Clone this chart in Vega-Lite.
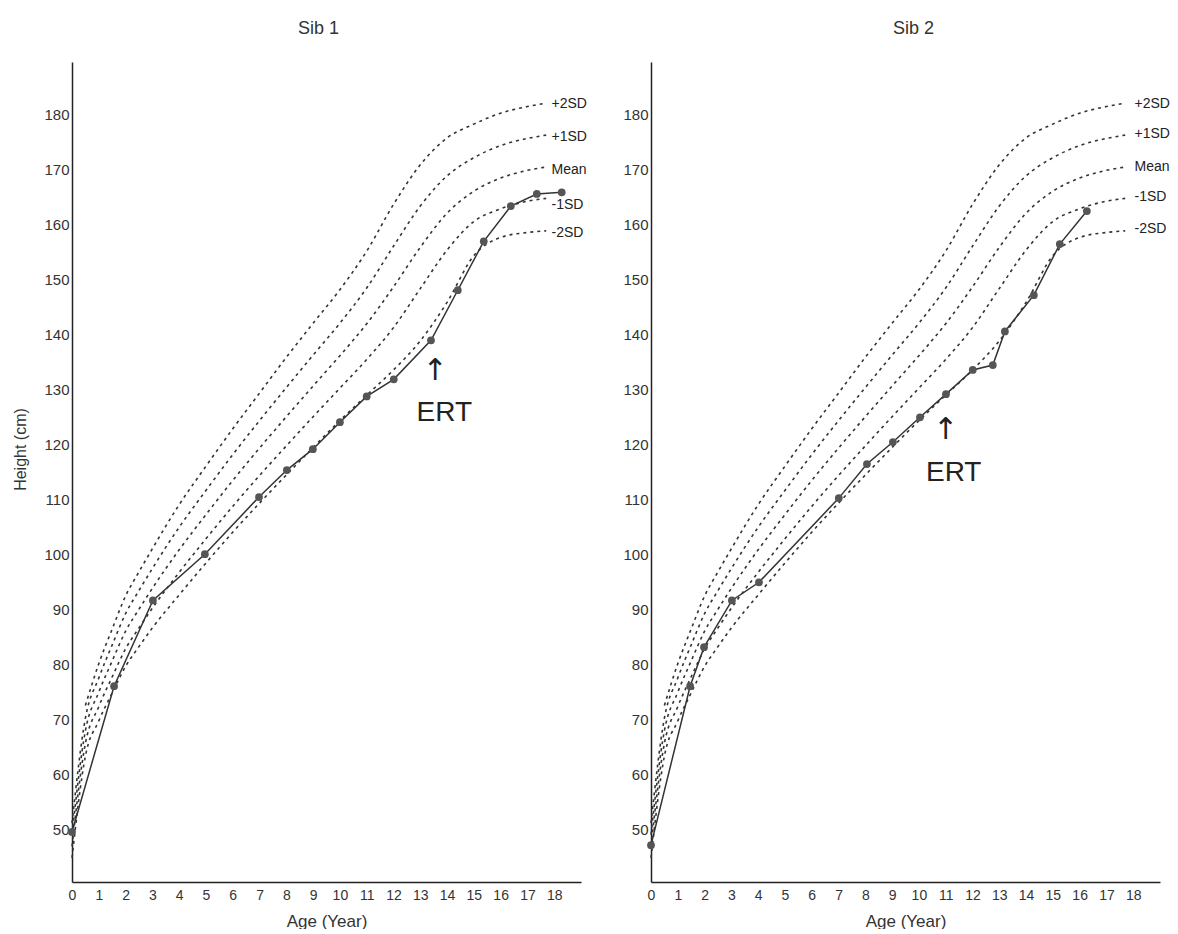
{
  "$schema": "https://vega.github.io/schema/vega-lite/v6.json",
  "padding": {"left": 12, "top": 20, "right": 0, "bottom": 0},
  "spacing": 35,
  "config": {
    "view": {"stroke": null},
    "font": "Liberation Sans",
    "axis": {
      "grid": false,
      "tickSize": 0,
      "domainColor": "#222",
      "domainWidth": 1.5,
      "labelColor": "#333",
      "titleColor": "#333",
      "titleFontWeight": "normal",
      "labelFlush": false
    },
    "title": {"fontSize": 18, "fontWeight": "normal", "color": "#333", "offset": 24, "anchor": "middle"}
  },
  "datasets": {
    "ref": [
      {"age": 0, "m2": 44.8, "m1": 46.9, "mean": 49.0, "p1": 51.1, "p2": null},
      {"age": 0.5, "m2": 63.3, "m1": 65.6, "mean": 67.9, "p1": 70.2, "p2": 72.5},
      {"age": 1, "m2": 69.7, "m1": 72.3, "mean": 74.9, "p1": 77.5, "p2": 80.1},
      {"age": 1.5, "m2": 74.8, "m1": 77.7, "mean": 80.6, "p1": 83.5, "p2": 86.4},
      {"age": 2, "m2": 79.6, "m1": 82.8, "mean": 86.0, "p1": 89.2, "p2": 92.4},
      {"age": 2.5, "m2": 83.2, "m1": 86.6, "mean": 90.0, "p1": 93.4, "p2": 96.8},
      {"age": 3, "m2": 86.6, "m1": 90.2, "mean": 93.8, "p1": 97.4, "p2": 101.0},
      {"age": 4, "m2": 92.6, "m1": 96.7, "mean": 100.8, "p1": 104.9, "p2": 109.0},
      {"age": 5, "m2": 98.4, "m1": 102.8, "mean": 107.2, "p1": 111.6, "p2": 116.0},
      {"age": 6, "m2": 104.0, "m1": 108.7, "mean": 113.4, "p1": 118.1, "p2": 122.8},
      {"age": 7, "m2": 109.3, "m1": 114.3, "mean": 119.3, "p1": 124.3, "p2": 129.3},
      {"age": 8, "m2": 114.4, "m1": 119.7, "mean": 125.0, "p1": 130.3, "p2": 135.8},
      {"age": 9, "m2": 119.4, "m1": 125.0, "mean": 130.6, "p1": 136.2, "p2": 142.0},
      {"age": 10, "m2": 124.3, "m1": 130.2, "mean": 136.1, "p1": 142.0, "p2": 148.1},
      {"age": 11, "m2": 128.9, "m1": 135.4, "mean": 141.9, "p1": 148.4, "p2": 155.1},
      {"age": 12, "m2": 133.5, "m1": 141.2, "mean": 148.6, "p1": 156.0, "p2": 163.6},
      {"age": 13, "m2": 138.8, "m1": 148.3, "mean": 155.8, "p1": 163.3, "p2": 170.8},
      {"age": 14, "m2": 145.8, "m1": 155.3, "mean": 162.0, "p1": 168.8, "p2": 175.7},
      {"age": 15, "m2": 154.3, "m1": 160.5, "mean": 166.0, "p1": 172.1, "p2": 178.2},
      {"age": 16, "m2": 157.6, "m1": 162.8, "mean": 168.4, "p1": 174.3, "p2": 180.2},
      {"age": 17, "m2": 158.5, "m1": 164.2, "mean": 169.8, "p1": 175.6, "p2": 181.4},
      {"age": 17.7, "m2": 158.8, "m1": 164.7, "mean": 170.4, "p1": 176.2, "p2": 182.0}
    ],
    "sib1": [
      {"age": 0, "h": 49.5}, {"age": 1.57, "h": 76.0}, {"age": 3.02, "h": 91.6},
      {"age": 4.96, "h": 100.0}, {"age": 6.98, "h": 110.4}, {"age": 8.02, "h": 115.3},
      {"age": 8.99, "h": 119.1}, {"age": 10.0, "h": 124.0}, {"age": 11.0, "h": 128.7},
      {"age": 12.01, "h": 131.8}, {"age": 13.4, "h": 138.9}, {"age": 14.4, "h": 148.0},
      {"age": 15.37, "h": 156.9}, {"age": 16.38, "h": 163.3}, {"age": 17.35, "h": 165.5},
      {"age": 18.28, "h": 165.8}
    ],
    "sib2": [
      {"age": 0, "h": 47.1}, {"age": 1.46, "h": 76.0}, {"age": 1.98, "h": 83.1},
      {"age": 3.02, "h": 91.6}, {"age": 4.03, "h": 94.9}, {"age": 7.01, "h": 110.2},
      {"age": 8.06, "h": 116.4}, {"age": 9.03, "h": 120.4}, {"age": 10.04, "h": 124.9},
      {"age": 11.01, "h": 129.1}, {"age": 12.01, "h": 133.5}, {"age": 12.76, "h": 134.4},
      {"age": 13.21, "h": 140.5}, {"age": 14.29, "h": 147.1}, {"age": 15.26, "h": 156.4},
      {"age": 16.27, "h": 162.4}
    ],
    "labels": [
      {"panel": "Sib 1", "label": "+2SD", "age": 17.9, "h": 181.8},
      {"panel": "Sib 1", "label": "+1SD", "age": 17.9, "h": 175.8},
      {"panel": "Sib 1", "label": "Mean", "age": 17.9, "h": 169.8},
      {"panel": "Sib 1", "label": "-1SD", "age": 17.9, "h": 163.5},
      {"panel": "Sib 1", "label": "-2SD", "age": 17.9, "h": 158.4},
      {"panel": "Sib 2", "label": "+2SD", "age": 18.05, "h": 181.8},
      {"panel": "Sib 2", "label": "+1SD", "age": 18.05, "h": 176.4},
      {"panel": "Sib 2", "label": "Mean", "age": 18.05, "h": 170.4},
      {"panel": "Sib 2", "label": "-1SD", "age": 18.05, "h": 164.9},
      {"panel": "Sib 2", "label": "-2SD", "age": 18.05, "h": 159.1}
    ],
    "ert": [
      {"panel": "Sib 1", "kind": "arrow", "text": "↑", "age": 13.55, "h": 133.3},
      {"panel": "Sib 1", "kind": "label", "text": "ERT", "age": 13.9, "h": 125.6},
      {"panel": "Sib 2", "kind": "arrow", "text": "↑", "age": 11.0, "h": 122.5},
      {"panel": "Sib 2", "kind": "label", "text": "ERT", "age": 11.3, "h": 114.7}
    ]
  },
  "hconcat": [
    {
      "width": 509,
      "height": 820,
      "title": {"text": "Sib 1", "dx": -8},
      "encoding": {
        "x": {"field": "age", "type": "quantitative", "scale": {"domain": [0, 19], "nice": false, "zero": false},
              "axis": {"values": [0,1,2,3,4,5,6,7,8,9,10,11,12,13,14,15,16,17,18], "labelFontSize": 14, "labelPadding": 6, "title": "Age (Year)", "titleFontSize": 17, "titlePadding": 11}},
        "y": {"field": "h", "type": "quantitative", "scale": {"domain": [40.4, 189.5], "nice": false, "zero": false},
              "axis": {"values": [50,60,70,80,90,100,110,120,130,140,150,160,170,180], "labelFontSize": 15, "labelPadding": 3, "title": "Height (cm)", "titleFontSize": 16, "titleX": -44, "titleY": 387}}
      },
      "layer": [
        {
          "data": {"name": "ref"},
          "transform": [{"fold": ["m2", "m1", "mean", "p1", "p2"], "as": ["curve", "h"]}, {"filter": "datum.h != null"}],
          "mark": {"type": "line", "interpolate": "monotone", "strokeDash": [3, 4], "strokeWidth": 1.6, "color": "#333"},
          "encoding": {"detail": {"field": "curve"}}
        },
        {
          "data": {"name": "sib1"},
          "mark": {"type": "line", "color": "#333", "strokeWidth": 1.5},
          "encoding": {}
        },
        {
          "data": {"name": "sib1"},
          "mark": {"type": "circle", "size": 60, "color": "#555", "opacity": 1},
          "encoding": {}
        },
        {
          "data": {"name": "labels"},
          "transform": [{"filter": "datum.panel == 'Sib 1'"}],
          "mark": {"type": "text", "align": "left", "baseline": "middle", "fontSize": 14, "color": "#222"},
          "encoding": {"text": {"field": "label"}}
        },
        {
          "data": {"name": "ert"},
          "transform": [{"filter": "datum.panel == 'Sib 1' && datum.kind == 'arrow'"}],
          "mark": {"type": "text", "align": "center", "baseline": "middle", "fontSize": 30, "font": "DejaVu Sans", "color": "#222"},
          "encoding": {"text": {"field": "text"}}
        },
        {
          "data": {"name": "ert"},
          "transform": [{"filter": "datum.panel == 'Sib 1' && datum.kind == 'label'"}],
          "mark": {"type": "text", "align": "center", "baseline": "middle", "fontSize": 28, "color": "#222"},
          "encoding": {"text": {"field": "text"}}
        }
      ]
    },
    {
      "width": 509,
      "height": 820,
      "title": {"text": "Sib 2", "dx": 8},
      "encoding": {
        "x": {"field": "age", "type": "quantitative", "scale": {"domain": [0, 19], "nice": false, "zero": false},
              "axis": {"values": [0,1,2,3,4,5,6,7,8,9,10,11,12,13,14,15,16,17,18], "labelFontSize": 14, "labelPadding": 6, "title": "Age (Year)", "titleFontSize": 17, "titlePadding": 11}},
        "y": {"field": "h", "type": "quantitative", "scale": {"domain": [40.4, 189.5], "nice": false, "zero": false},
              "axis": {"values": [50,60,70,80,90,100,110,120,130,140,150,160,170,180], "labelFontSize": 15, "labelPadding": 3, "title": null}}
      },
      "layer": [
        {
          "data": {"name": "ref"},
          "transform": [{"fold": ["m2", "m1", "mean", "p1", "p2"], "as": ["curve", "h"]}, {"filter": "datum.h != null"}],
          "mark": {"type": "line", "interpolate": "monotone", "strokeDash": [3, 4], "strokeWidth": 1.6, "color": "#333"},
          "encoding": {"detail": {"field": "curve"}}
        },
        {
          "data": {"name": "sib2"},
          "mark": {"type": "line", "color": "#333", "strokeWidth": 1.5},
          "encoding": {}
        },
        {
          "data": {"name": "sib2"},
          "mark": {"type": "circle", "size": 60, "color": "#555", "opacity": 1},
          "encoding": {}
        },
        {
          "data": {"name": "labels"},
          "transform": [{"filter": "datum.panel == 'Sib 2'"}],
          "mark": {"type": "text", "align": "left", "baseline": "middle", "fontSize": 14, "color": "#222"},
          "encoding": {"text": {"field": "label"}}
        },
        {
          "data": {"name": "ert"},
          "transform": [{"filter": "datum.panel == 'Sib 2' && datum.kind == 'arrow'"}],
          "mark": {"type": "text", "align": "center", "baseline": "middle", "fontSize": 30, "font": "DejaVu Sans", "color": "#222"},
          "encoding": {"text": {"field": "text"}}
        },
        {
          "data": {"name": "ert"},
          "transform": [{"filter": "datum.panel == 'Sib 2' && datum.kind == 'label'"}],
          "mark": {"type": "text", "align": "center", "baseline": "middle", "fontSize": 28, "color": "#222"},
          "encoding": {"text": {"field": "text"}}
        }
      ]
    }
  ]
}
